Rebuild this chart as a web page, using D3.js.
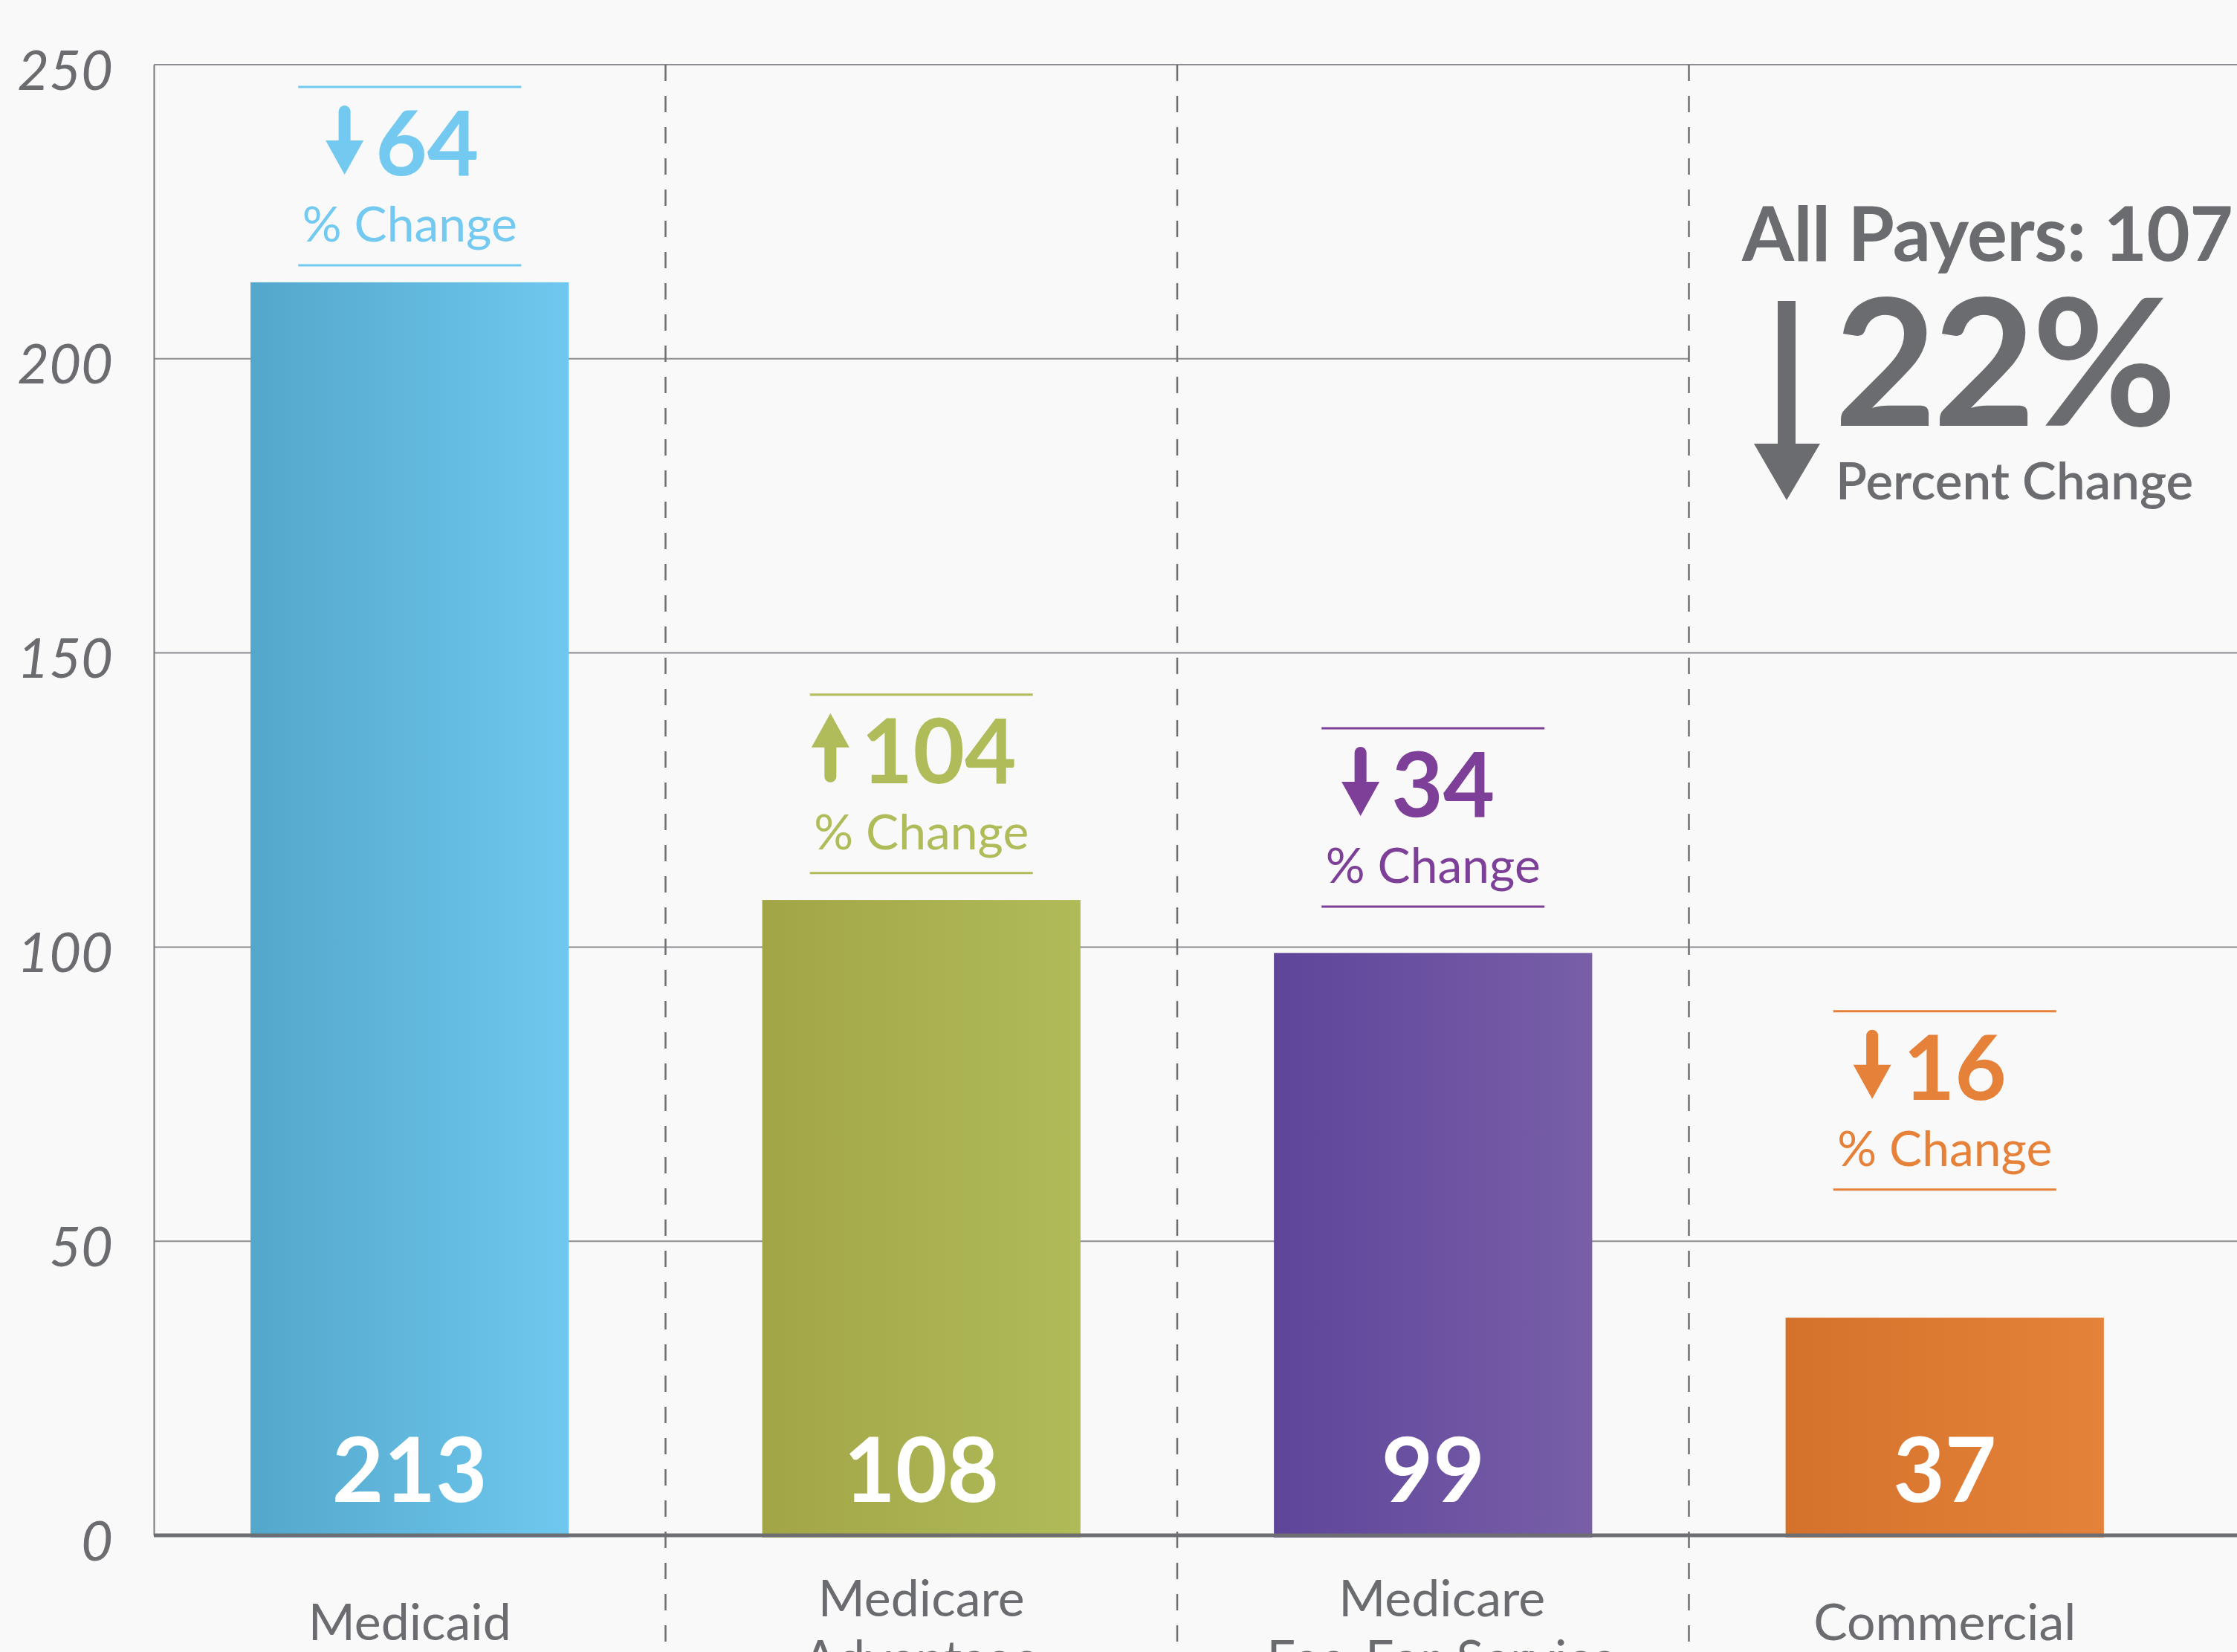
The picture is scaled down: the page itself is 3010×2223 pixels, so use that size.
<!DOCTYPE html>
<html>
<head>
<meta charset="utf-8">
<script src="https://cdn.jsdelivr.net/npm/d3@7"></script>
<style>
  html, body { margin: 0; padding: 0; background: #f8f9f8; }
  svg { display: block; font-family: Lato, "Open Sans", sans-serif; }
</style>
</head>
<body>
<svg id="grafico"></svg>
<script>
// dados
const categorias = ['Medicaid', 'Medicare Advantage', 'Medicare Fee-For-Service', 'Commercial'];
const rotulosCategorias = [['Medicaid'], ['Medicare', 'Advantage'], ['Medicare', 'Fee-For-Service'], ['Commercial']];
const valores = [213, 108, 99, 37];
const variacoes = [64, 104, 34, 16];
const direcoes = ['down', 'up', 'down', 'down'];
// nível (em unidades do eixo) da linha superior de cada anotação
const niveisAnotacao = [246.2, 142.9, 137.2, 89.1];
const ticksY = [0, 50, 100, 150, 200, 250];
const totalPagadores = 107;
const variacaoTotal = 22;
const direcaoTotal = 'down';

const coresTexto = ['#73c9ef', '#b0bb59', '#7d3f97', '#e6813a'];
const coresBarra = [['#53a7ca', '#6fc8ef'], ['#a2a546', '#b0bb58'], ['#5f459a', '#785fa8'], ['#d4722b', '#e5823a']];
const cinza = '#6b6c70';

const largura = 3010, altura = 2223;
const margem = { esquerda: 207, superior: 87, inferior: 157 };
const direitaBandas = 2961;

const svg = d3.select('#grafico').attr('width', largura).attr('height', altura);
svg.append('rect').attr('width', largura).attr('height', altura).attr('fill', '#f8f9f8');

const x = d3.scaleBand().domain(categorias).range([margem.esquerda, direitaBandas]).paddingInner(0.378).paddingOuter(0.189);
const y = d3.scaleLinear().domain([0, 250]).range([altura - margem.inferior, margem.superior]);
const passo = x.step();

const defs = svg.append('defs');
coresBarra.forEach((c, i) => {
  const g = defs.append('linearGradient').attr('id', 'grad' + i).attr('x1', 0).attr('x2', 1).attr('y1', 0).attr('y2', 0);
  g.append('stop').attr('offset', '0%').attr('stop-color', c[0]);
  g.append('stop').attr('offset', '100%').attr('stop-color', c[1]);
});

// grade horizontal
const fimBanda3 = x(categorias[3]) - (passo - x.bandwidth()) / 2;
svg.append('g').selectAll('line')
  .data(ticksY.filter(t => t > 0))
  .enter().append('line')
  .attr('x1', margem.esquerda)
  .attr('x2', d => d === 200 ? fimBanda3 : largura)
  .attr('y1', d => y(d)).attr('y2', d => y(d))
  .attr('stroke', '#8c8d90').attr('stroke-width', 2);

// eixo Y
const eixoY = d3.axisLeft(y).tickValues(ticksY).tickSize(0).tickPadding(55);
const gY = svg.append('g').attr('transform', `translate(${margem.esquerda},0)`).call(eixoY);
gY.select('.domain').attr('stroke', '#7a7b7e').attr('stroke-width', 2);
gY.selectAll('text')
  .attr('font-family', 'Lato, sans-serif')
  .attr('font-style', 'italic')
  .attr('font-weight', 400)
  .attr('font-size', 74)
  .attr('fill', cinza)
  .attr('dy', 33);

// divisórias tracejadas
svg.append('g').selectAll('line')
  .data(categorias.slice(1))
  .enter().append('line')
  .attr('x1', d => x(d) - (passo - x.bandwidth()) / 2)
  .attr('x2', d => x(d) - (passo - x.bandwidth()) / 2)
  .attr('y1', margem.superior).attr('y2', altura)
  .attr('stroke', '#6e6f72').attr('stroke-width', 2.5)
  .attr('stroke-dasharray', '22,20');

// barras
svg.append('g').selectAll('rect')
  .data(valores)
  .enter().append('rect')
  .attr('x', (d, i) => x(categorias[i]))
  .attr('y', d => y(d))
  .attr('width', x.bandwidth())
  .attr('height', d => y(0) - y(d) + 3)
  .attr('fill', (d, i) => `url(#grad${i})`);

// linha de base
svg.append('line')
  .attr('x1', margem.esquerda).attr('x2', largura)
  .attr('y1', y(0)).attr('y2', y(0))
  .attr('stroke', '#6d6e71').attr('stroke-width', 5);

// valores dentro das barras
svg.append('g').selectAll('text')
  .data(valores)
  .enter().append('text')
  .attr('x', (d, i) => x(categorias[i]) + x.bandwidth() / 2)
  .attr('y', y(0) - 45)
  .attr('text-anchor', 'middle')
  .attr('font-weight', 700)
  .attr('font-size', 120)
  .attr('fill', '#ffffff')
  .text(d => d);

// rótulos das categorias
rotulosCategorias.forEach((linhas, i) => {
  const t = svg.append('text')
    .attr('text-anchor', 'middle')
    .attr('font-size', 68)
    .attr('font-weight', 400)
    .attr('fill', cinza);
  const cx = x(categorias[i]) + x.bandwidth() / 2 + (i === 2 ? 12 : 0);
  const base = linhas.length === 1 ? 2207 : 2175;
  linhas.forEach((l, j) => {
    t.append('tspan').attr('x', cx).attr('y', base + j * 81).text(l);
  });
});

// seta desenhada a partir da linha de base do texto
function seta(g, xc, base, dir, cor) {
  const meia = 25.5, cab = 46, total = 93;
  if (dir === 'down') {
    g.append('line').attr('x1', xc).attr('x2', xc).attr('y1', base - total + 8).attr('y2', base - cab + 2)
      .attr('stroke', cor).attr('stroke-width', 16).attr('stroke-linecap', 'round');
    g.append('path').attr('d', `M${xc - meia},${base - cab}L${xc + meia},${base - cab}L${xc},${base}Z`).attr('fill', cor);
  } else {
    g.append('line').attr('x1', xc).attr('x2', xc).attr('y1', base - 8).attr('y2', base - total + cab - 2)
      .attr('stroke', cor).attr('stroke-width', 16).attr('stroke-linecap', 'round');
    g.append('path').attr('d', `M${xc - meia},${base - total + cab}L${xc + meia},${base - total + cab}L${xc},${base - total}Z`).attr('fill', cor);
  }
}

// anotações de variação
variacoes.forEach((v, i) => {
  const cor = coresTexto[i];
  const cx = x(categorias[i]) + x.bandwidth() / 2;
  const topo = y(niveisAnotacao[i]);
  const g = svg.append('g');

  g.append('line').attr('x1', cx - 150).attr('x2', cx + 150).attr('y1', topo).attr('y2', topo)
    .attr('stroke', cor).attr('stroke-width', 3);
  g.append('line').attr('x1', cx - 150).attr('x2', cx + 150).attr('y1', topo + 240).attr('y2', topo + 240)
    .attr('stroke', cor).attr('stroke-width', 3);

  const numero = g.append('text')
    .attr('y', topo + 119)
    .attr('font-weight', 700)
    .attr('font-size', 120)
    .attr('fill', cor)
    .text(v);
  const larguraNum = numero.node().getComputedTextLength();
  const larguraSeta = 51, folga = 16;
  const deslocamento = i >= 2 ? -20 : -10;
  const inicio = cx - (larguraSeta + folga + larguraNum) / 2 + deslocamento;
  numero.attr('x', inicio + larguraSeta + folga);
  seta(g, inicio + larguraSeta / 2, topo + 118, direcoes[i], cor);

  g.append('text')
    .attr('x', cx).attr('y', topo + 208)
    .attr('text-anchor', 'middle')
    .attr('font-size', 66)
    .attr('fill', cor)
    .text('% Change');
});

// destaque "All Payers"
const destaque = svg.append('g');
destaque.append('text')
  .attr('x', 2344).attr('y', 351)
  .attr('font-weight', 700).attr('font-size', 101)
  .attr('letter-spacing', -0.6)
  .attr('fill', cinza)
  .text(`All Payers: ${totalPagadores}`);
destaque.append('text')
  .attr('x', 2468).attr('y', 573)
  .attr('font-weight', 700).attr('font-size', 238)
  .attr('letter-spacing', -5)
  .attr('fill', cinza)
  .text(`${variacaoTotal}%`);
destaque.append('text')
  .attr('x', 2470).attr('y', 672)
  .attr('font-weight', 600).attr('font-size', 69)
  .attr('fill', cinza)
  .text('Percent Change');
if (direcaoTotal === 'down') {
  destaque.append('rect').attr('x', 2392).attr('y', 405).attr('width', 24).attr('height', 194).attr('fill', cinza);
  destaque.append('path').attr('d', 'M2360,597L2449,597L2404,673Z').attr('fill', cinza);
}
</script>
</body>
</html>
